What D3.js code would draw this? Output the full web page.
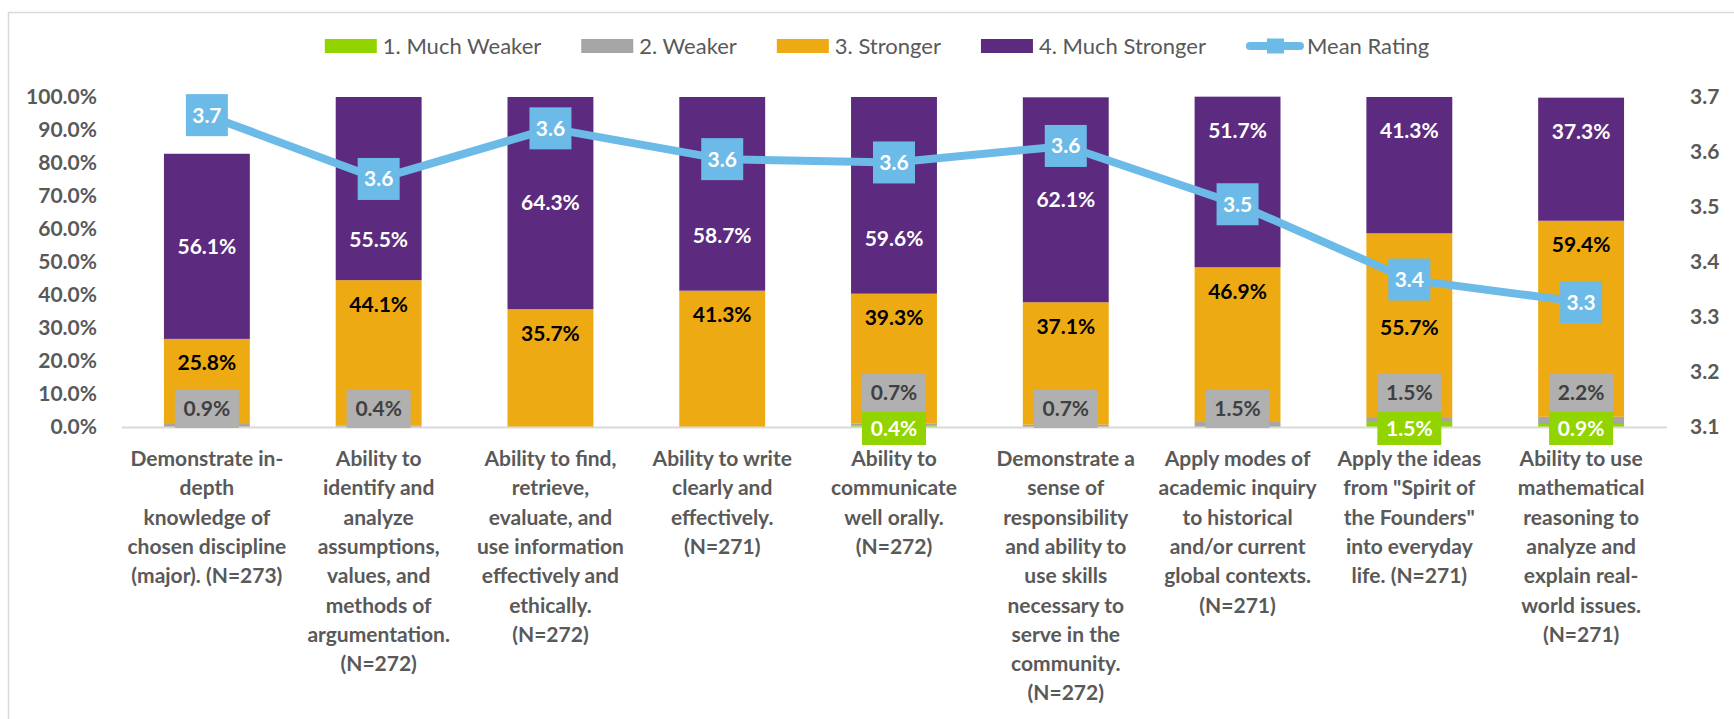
<!DOCTYPE html>
<html>
<head>
<meta charset="utf-8">
<script src="https://cdn.jsdelivr.net/npm/d3@7"></script>
<style>
  html, body { margin: 0; padding: 0; background: #fff; }
  svg { display: block; font-family: Lato, "Open Sans", sans-serif; }
</style>
</head>
<body>
<svg id="chart" width="1734" height="719"></svg>
<script>
// ---- data ----
const categories = [
  ["Demonstrate in-", "depth", "knowledge of", "chosen discipline", "(major). (N=273)"],
  ["Ability to", "identify and", "analyze", "assumptions,", "values, and", "methods of", "argumentation.", "(N=272)"],
  ["Ability to find,", "retrieve,", "evaluate, and", "use information", "effectively and", "ethically.", "(N=272)"],
  ["Ability to write", "clearly and", "effectively.", "(N=271)"],
  ["Ability to", "communicate", "well orally.", "(N=272)"],
  ["Demonstrate a", "sense of", "responsibility", "and ability to", "use skills", "necessary to", "serve in the", "community.", "(N=272)"],
  ["Apply modes of", "academic inquiry", "to historical", "and/or current", "global contexts.", "(N=271)"],
  ["Apply the ideas", "from \"Spirit of", "the Founders\"", "into everyday", "life. (N=271)"],
  ["Ability to use", "mathematical", "reasoning to", "analyze and", "explain real-", "world issues.", "(N=271)"]
];
const seriesNames = ["1. Much Weaker", "2. Weaker", "3. Stronger", "4. Much Stronger"];
const muchWeaker   = [0, 0, 0, 0, 0.4, 0, 0, 1.5, 0.9];
const weaker       = [0.9, 0.4, 0, 0, 0.7, 0.7, 1.5, 1.5, 2.2];
const stronger     = [25.8, 44.1, 35.7, 41.3, 39.3, 37.1, 46.9, 55.7, 59.4];
const muchStronger = [56.1, 55.5, 64.3, 58.7, 59.6, 62.1, 51.7, 41.3, 37.3];
const meanName = "Mean Rating";
const meanRating   = [3.667, 3.551, 3.643, 3.587, 3.581, 3.611, 3.505, 3.368, 3.327];
const leftTicks  = [0, 10, 20, 30, 40, 50, 60, 70, 80, 90, 100];
const rightTicks = [3.1, 3.2, 3.3, 3.4, 3.5, 3.6, 3.7];

// ---- styles ----
const colors = ["#92D400", "#A5A5A5", "#EEAA12", "#5C2A7E"];
const labelBoxColors = ["#92D400", "#B0B0B0"];
const lineColor = "#6CBAE7";
const axisText = "#595959";
const FS = 21;

const svg = d3.select("#chart");

// frame
svg.append("rect").attr("x", 8.5).attr("y", 12.5).attr("width", 1800).attr("height", 800)
  .attr("fill", "#fff").attr("stroke", "#D9D9D9").attr("stroke-width", 1.5);

const idx = d3.range(categories.length);
const x = d3.scaleBand().domain(idx).range([121, 1667]).paddingInner(0.5).paddingOuter(0.25);
const y = d3.scaleLinear().domain([0, 100]).range([427, 97]);
const yR = d3.scaleLinear().domain([3.1, 3.7]).range([427, 97]);

// stacked data
const table = idx.map(i => ({ i, s0: muchWeaker[i], s1: weaker[i], s2: stronger[i], s3: muchStronger[i] }));
const stack = d3.stack().keys(["s0", "s1", "s2", "s3"])(table);

// axes
const gL = svg.append("g").attr("transform", "translate(122,0)")
  .call(d3.axisLeft(y).tickValues(leftTicks).tickFormat(d => d.toFixed(1) + "%").tickSize(0).tickPadding(25));
const gR = svg.append("g").attr("transform", "translate(1667,0)")
  .call(d3.axisRight(yR).tickValues(rightTicks).tickFormat(d => d.toFixed(1)).tickSize(0).tickPadding(23));
[gL, gR].forEach(g => {
  g.select(".domain").remove();
  g.selectAll("text").attr("fill", axisText).attr("font-size", FS).attr("font-weight", 700)
    .attr("font-family", "Lato, sans-serif");
});

// bars
const gBars = svg.append("g");
stack.forEach((layer, k) => {
  gBars.selectAll(null).data(layer).enter().append("rect")
    .attr("x", d => x(d.data.i))
    .attr("width", x.bandwidth())
    .attr("y", d => y(d[1]))
    .attr("height", d => Math.max(0, y(d[0]) - y(d[1])))
    .attr("fill", colors[k]);
});

// baseline
svg.append("line").attr("x1", 122).attr("x2", 1667).attr("y1", y(0) + 0.5).attr("y2", y(0) + 0.5)
  .attr("stroke", "#D9D9D9").attr("stroke-width", 2);

// x labels
const gX = svg.append("g");
categories.forEach((lines, i) => {
  const t = gX.append("text").attr("x", x(i) + x.bandwidth() / 2).attr("y", 466)
    .attr("text-anchor", "middle").attr("fill", axisText).attr("font-size", FS).attr("font-weight", 700);
  lines.forEach((ln, j) => t.append("tspan").attr("x", x(i) + x.bandwidth() / 2).attr("dy", j === 0 ? 0 : 29.3).text(ln));
});

// data labels
const gLab = svg.append("g").attr("font-size", FS).attr("font-weight", 700).attr("text-anchor", "middle");
const fmt = v => v.toFixed(1) + "%";
const boxW = 64;
idx.forEach(i => {
  const cx = x(i) + x.bandwidth() / 2;
  const y0 = y(0);
  const mY = yR(meanRating[i]);
  const mTop = mY - 21, mBot = mY + 21;
  // green
  if (muchWeaker[i] > 0) {
    const cy = y0 + 1.5;
    gLab.append("rect").attr("x", cx - boxW / 2).attr("y", cy - 16.5).attr("width", boxW).attr("height", 33).attr("fill", labelBoxColors[0]);
    gLab.append("text").attr("x", cx).attr("y", cy).attr("dy", "0.35em").attr("fill", "#fff").text(fmt(muchWeaker[i]));
  }
  // gray
  if (weaker[i] > 0) {
    const cy = muchWeaker[i] > 0 ? y0 - 34.5 : y0 - 18;
    gLab.append("rect").attr("x", cx - boxW / 2).attr("y", cy - 19).attr("width", boxW).attr("height", 38).attr("fill", labelBoxColors[1]);
    gLab.append("text").attr("x", cx).attr("y", cy).attr("dy", "0.35em").attr("fill", "#404040").text(fmt(weaker[i]));
  }
  // orange: near the top end, moved below the mean box if overlapping
  const oTop = y(muchWeaker[i] + weaker[i] + stronger[i]);
  let oc = oTop + 24;
  if (Math.abs(oc - mY) < 38) oc = mBot + 27;
  gLab.append("text").attr("x", cx).attr("y", oc).attr("dy", "0.35em").attr("fill", "#000").text(fmt(stronger[i]));
  // purple: centre, avoid mean box
  const pBot = oTop, pTop = y(muchWeaker[i] + weaker[i] + stronger[i] + muchStronger[i]);
  let pc = (pTop + pBot) / 2;
  if (mTop >= pBot) {
    pc = pTop + 34;
  } else if (Math.abs(pc - mY) < 40) {
    const above = mTop - pTop, below = pBot - mBot;
    pc = above > below ? pTop + 34 : (mBot + pBot) / 2;
  }
  gLab.append("text").attr("x", cx).attr("y", pc).attr("dy", "0.35em").attr("fill", "#fff").text(fmt(muchStronger[i]));
});

// mean line
const line = d3.line().x((d, i) => x(i) + x.bandwidth() / 2).y(d => yR(d));
svg.append("path").datum(meanRating).attr("d", line).attr("fill", "none")
  .attr("stroke", lineColor).attr("stroke-width", 8).attr("stroke-linejoin", "round").attr("stroke-linecap", "round");
const gM = svg.append("g");
meanRating.forEach((v, i) => {
  const cx = x(i) + x.bandwidth() / 2, cy = yR(v);
  gM.append("rect").attr("x", cx - 21).attr("y", cy - 21).attr("width", 42).attr("height", 42).attr("fill", lineColor);
  gM.append("text").attr("x", cx).attr("y", cy).attr("dy", "0.35em").attr("text-anchor", "middle")
    .attr("fill", "#fff").attr("font-size", FS).attr("font-weight", 700).text(v.toFixed(1));
});

// legend
const gLeg = svg.append("g");
let lx = 0;
seriesNames.forEach((n, k) => {
  const g = gLeg.append("g").attr("transform", `translate(${lx},0)`);
  g.append("rect").attr("x", 0).attr("y", 39).attr("width", 52).attr("height", 14).attr("fill", colors[k]);
  const t = g.append("text").attr("x", 58).attr("y", 46).attr("dy", "0.35em").attr("fill", axisText).attr("font-size", 22).text(n);
  lx += 58 + t.node().getComputedTextLength() + 40;
});
{
  const g = gLeg.append("g").attr("transform", `translate(${lx},0)`);
  g.append("line").attr("x1", 4).attr("x2", 54).attr("y1", 46).attr("y2", 46).attr("stroke", lineColor).attr("stroke-width", 8).attr("stroke-linecap", "round");
  g.append("rect").attr("x", 21).attr("y", 38.5).attr("width", 17).attr("height", 15).attr("fill", lineColor);
  const t = g.append("text").attr("x", 61).attr("y", 46).attr("dy", "0.35em").attr("fill", axisText).attr("font-size", 22).text(meanName);
  lx += 61 + t.node().getComputedTextLength();
}
gLeg.attr("transform", `translate(${877 - lx / 2},0)`);
</script>
</body>
</html>
